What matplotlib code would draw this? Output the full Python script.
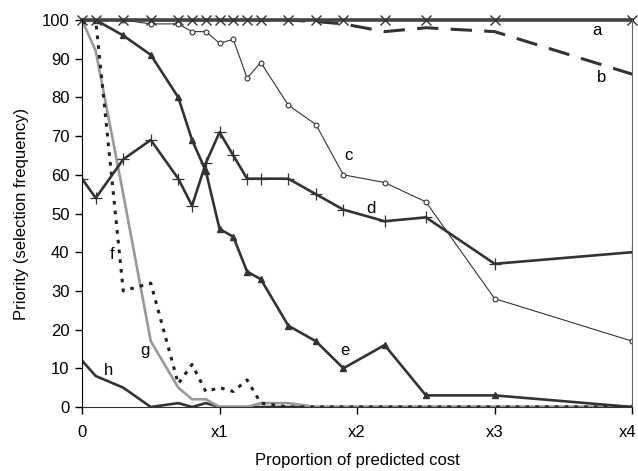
import matplotlib
matplotlib.use("Agg")
import matplotlib.pyplot as plt
import matplotlib.transforms as mtransforms

plt.rcParams['font.family'] = ['Liberation Sans', 'DejaVu Sans']

# cost proportions where the series were sampled
x = [0, 0.1, 0.3, 0.5, 0.7, 0.8, 0.9, 1.0, 1.1, 1.2, 1.3, 1.5, 1.7, 1.9, 2.2, 2.5, 3, 4]

a = [100] * 18
b = [100, 100, 100, 100, 100, 100, 100, 100, 100, 100, 100, 100, 99.6, 99, 97, 98, 97, 86]
c = [100, 100, 100, 99, 99, 97, 97, 94, 95, 85, 89, 78, 73, 60, 58, 53, 28, 17]
d = [59, 54, 64, 69, 59, 52, 63, 71, 65, 59, 59, 59, 55, 51, 48, 49, 37, 40]
e = [100, 100, 96, 91, 80, 69, 61, 46, 44, 35, 33, 21, 17, 10, 16, 3, 3, 0]
f = [100, 100, 30, 32, 6, 11, 4, 5, 4, 7, 1, 0, 0, 0, 0, 0, 0, 0]
g = [100, 92, 55, 17, 5, 2, 2, 0, 0, 0, 1, 1, 0, 0, 0, 0, 0, 0]
h = [12, 8, 5, 0, 1, 0, 1, 0, 0, 0, 0, 0, 0, 0, 0, 0, 0, 0]

xticks = [0, 1, 2, 3, 4]
xticklabels = ["0", "x1", "x2", "x3", "x4"]

# letter labels next to the curves
labels = {"a": (3.74, 97.4), "b": (3.78, 85.2), "c": (1.94, 64.9), "d": (2.10, 51.3),
          "e": (1.91, 14.7), "f": (0.216, 39.3), "g": (0.458, 14.5), "h": (0.19, 9.4)}

fig = plt.figure(figsize=(6.38, 4.71), dpi=100)
ax = fig.add_axes([0.1285, 0.1359, 0.8625, 0.8216])

dark = "#333333"
ax.plot(x, h, color=dark, lw=1.9)
ax.plot(x, g, color="#999999", lw=1.9)
ax.plot(x, f, color="#222222", lw=2.2, ls=(0, (1.2, 2.0)))
ax.plot(x, e, color=dark, lw=1.9, marker="^", ms=4.8, mfc=dark, mec=dark)
ax.plot(x, d, color=dark, lw=1.9, marker="+", ms=8, mew=0.9)
ax.plot(x, c, color=dark, lw=0.8, marker="o", ms=3.5, mfc="white", mec=dark, mew=0.8)
ax.plot(x, b, color=dark, lw=2.2, ls=(0, (7, 4)))
ax.plot(x, a, color="#444444", lw=2.6, marker="x", ms=7, mew=1.0, mec="#333333",
        clip_on=False)

for name, (lx, ly) in labels.items():
    ax.text(lx, ly, name, fontsize=12, ha="center", va="center")

ax.set_xlim(0, 4)
ax.set_ylim(0, 100)
ax.set_xticks(xticks)
ax.set_xticklabels(xticklabels)
ax.set_yticks(range(0, 101, 10))
ax.tick_params(labelsize=12, direction="out", length=5, width=1)
ax.tick_params(axis="x", pad=8)
ax.tick_params(axis="y", pad=4)
ax.set_xlabel("Proportion of predicted cost", fontsize=12, labelpad=9)
ax.set_ylabel("Priority (selection frequency)", fontsize=12, labelpad=9)

# last x label sits a little left of its tick, as in the original
lab = ax.get_xticklabels()[-1]
lab.set_transform(lab.get_transform() + mtransforms.ScaledTranslation(-5 / 100, 0, fig.dpi_scale_trans))

ax.spines["left"].set_color("black")
ax.spines["bottom"].set_color(dark)
ax.spines["right"].set_color("#666666")
ax.spines["top"].set_visible(False)

fig.savefig("out.png", dpi=100)
